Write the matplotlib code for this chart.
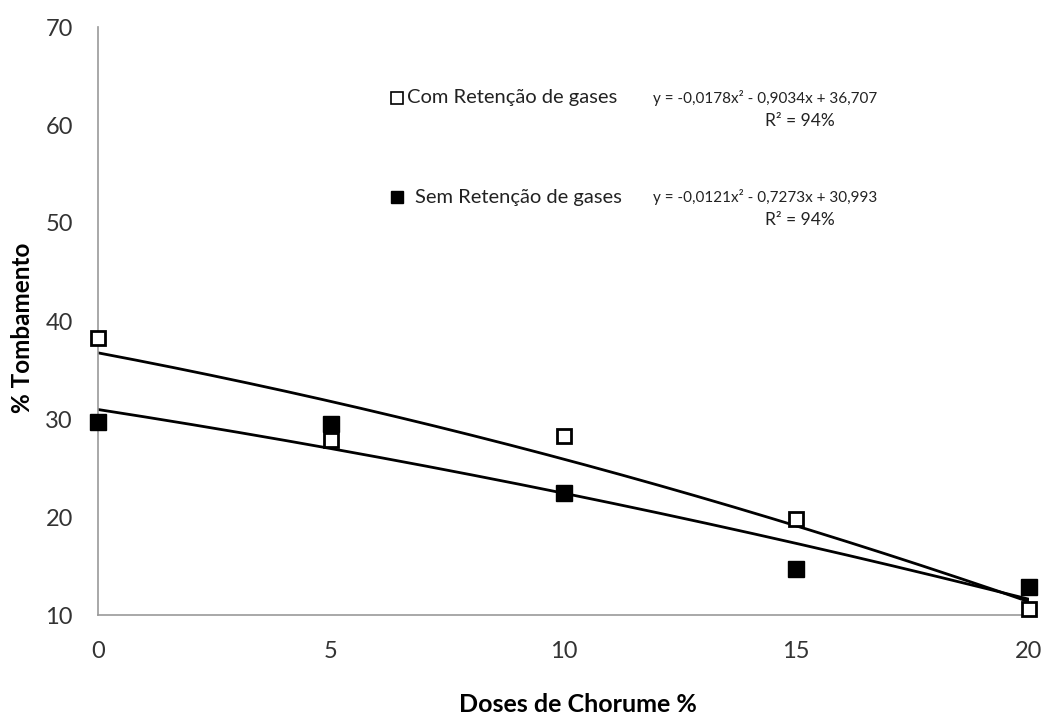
import numpy as np
import matplotlib
matplotlib.use("Agg")
import matplotlib.pyplot as plt

plt.rcParams['font.family'] = ['Lato', 'DejaVu Sans']

doses = [0, 5, 10, 15, 20]
com_retencao = [38.3, 27.9, 28.3, 19.8, 10.6]
sem_retencao = [29.7, 29.5, 22.5, 14.7, 12.9]
x_ticks = [0, 5, 10, 15, 20]
y_ticks = [10, 20, 30, 40, 50, 60, 70]
label_com = "Com Retenção de gases"
label_sem = "Sem Retenção de gases"
eq_com = "y = -0,0178x² - 0,9034x + 36,707"
eq_sem = "y = -0,0121x² - 0,7273x + 30,993"
r2_com = "R² = 94%"
r2_sem = "R² = 94%"

W, H = 1049, 716
fig = plt.figure(figsize=(W/100, H/100), dpi=100)
ax = fig.add_axes([98/W, 1-615/H, 931/W, 588/H])

def fx(px):
    return (px - 98) / 931

def fy(py):
    return (615 - py) / 588

xs = np.linspace(0, 20, 200)
for ys in (com_retencao, sem_retencao):
    c = np.polyfit(doses, ys, 2)
    ax.plot(xs, np.polyval(c, xs), color='black', lw=2, zorder=2)

ax.plot(doses, com_retencao, ls='none', marker='s', ms=10, mfc='white', mec='black', mew=2, zorder=3, clip_on=False)
ax.plot(doses, sem_retencao, ls='none', marker='s', ms=11, mfc='black', mec='black', mew=1, zorder=3, clip_on=False)

ax.set_xlim(0, 20)
ax.set_ylim(10, 70)
ax.set_xticks(x_ticks)
ax.set_yticks(y_ticks)
ax.tick_params(length=0, labelsize=17, colors='#333333')
ax.tick_params(axis='y', pad=18)
ax.tick_params(axis='x', pad=19)
for s in ('top', 'right'):
    ax.spines[s].set_visible(False)
for s in ('left', 'bottom'):
    ax.spines[s].set_color('#999999')
    ax.spines[s].set_linewidth(1.2)

ax.set_xlabel("Doses de Chorume %", fontsize=18, fontweight='bold')
ax.set_ylabel("% Tombamento", fontsize=17.5, fontweight='bold')
ax.xaxis.set_label_coords(fx(578), fy(704))
ax.yaxis.set_label_coords(fx(23), fy(328))
ax.yaxis.label.set_va('center')
ax.xaxis.label.set_va('center')

# legend-like annotations
ax.plot([fx(397)], [fy(98)], transform=ax.transAxes, marker='s', ms=9, mfc='white', mec='black', mew=1.2, ls='none', clip_on=False)
ax.text(fx(407), fy(98), label_com, transform=ax.transAxes, fontsize=14.5, va='center', ha='left', color='#222222')
ax.plot([fx(397)], [fy(197)], transform=ax.transAxes, marker='s', ms=9, mfc='black', mec='black', ls='none', clip_on=False)
ax.text(fx(415), fy(197), label_sem, transform=ax.transAxes, fontsize=14.5, va='center', ha='left', color='#222222')

ax.text(fx(765), fy(98), eq_com, transform=ax.transAxes, fontsize=11, va='center', ha='center', color='#222222')
ax.text(fx(800), fy(121), r2_com, transform=ax.transAxes, fontsize=12.5, va='center', ha='center', color='#222222')
ax.text(fx(765), fy(197), eq_sem, transform=ax.transAxes, fontsize=11, va='center', ha='center', color='#222222')
ax.text(fx(800), fy(220), r2_sem, transform=ax.transAxes, fontsize=12.5, va='center', ha='center', color='#222222')

fig.savefig("out.png", dpi=100)
